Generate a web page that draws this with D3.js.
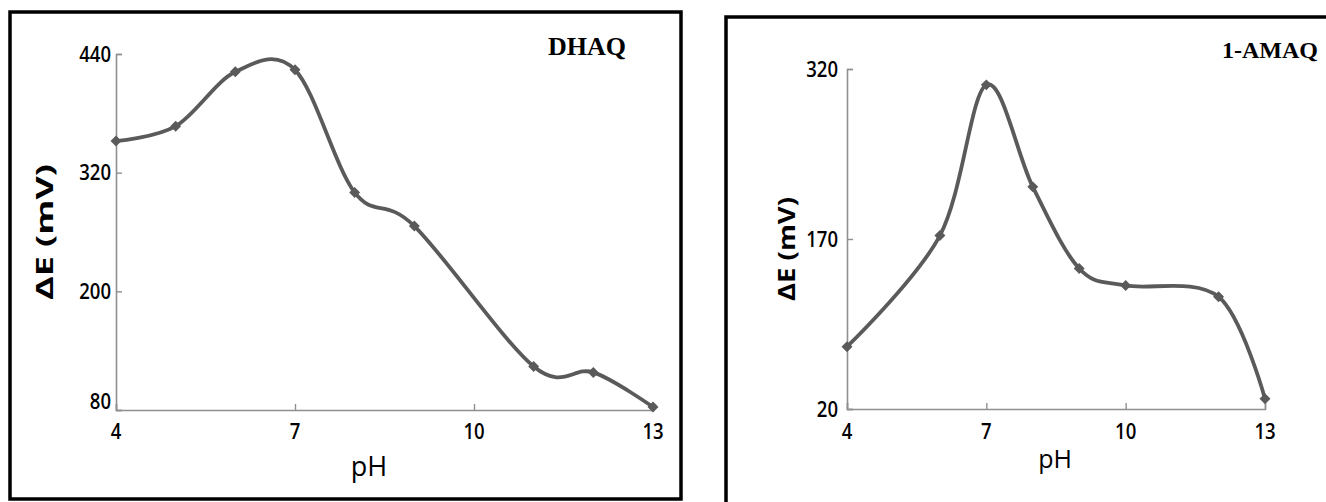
<!DOCTYPE html>
<html>
<head>
<meta charset="utf-8">
<script src="https://cdn.jsdelivr.net/npm/d3@7"></script>
<style>
  html, body { margin: 0; padding: 0; background: #fff; }
  svg { display: block; }
</style>
</head>
<body>
<svg id="chart" width="1326" height="502"></svg>
<script>
// pH sweep and peak separation ΔE for each compound
const phDHAQ = [4, 5, 6, 7, 8, 9, 11, 12, 13];
const dEDHAQ = [352, 367, 422, 424, 300, 266, 124, 118, 83];

const phAMAQ = [4, 6, 7, 8, 9, 10, 12, 13];
const dEAMAQ = [75, 173, 306, 216, 144, 129, 119, 29];

const xTicks = [4, 7, 10, 13];
const yTicksDHAQ = [80, 200, 320, 440];
const yTicksAMAQ = [20, 170, 320];

const titles = ["DHAQ", "1-AMAQ"];
const xTitle = "pH";
const yTitle = "ΔE (mV)";

const svg = d3.select("#chart");
svg.append("rect").attr("width", 1326).attr("height", 502).attr("fill", "#fff");

const LINE = "#5a5a5a";
const AXIS = "#8f8f8f";
const SANS = "'Open Sans', 'Noto Sans', sans-serif";

function panel(cfg) {
  const g = svg.append("g");

  // panel frame
  g.append("rect")
    .attr("x", cfg.frame[0]).attr("y", cfg.frame[1])
    .attr("width", cfg.frame[2]).attr("height", cfg.frame[3])
    .attr("fill", "none").attr("stroke", "#000").attr("stroke-width", 3.5);

  const x = d3.scaleLinear().domain([4, 13]).range([cfg.x0, cfg.x1]);
  const y = d3.scaleLinear().domain(cfg.yDomain).range([cfg.y0, cfg.y1]);

  // axes with inward ticks
  const xAxis = d3.axisTop(x).tickValues(xTicks).tickSize(6).tickFormat("");
  const yAxis = d3.axisRight(y).tickValues(cfg.yTicks).tickSize(6).tickFormat("");

  const gx = g.append("g").attr("transform", `translate(0,${cfg.y0})`).call(xAxis);
  const gy = g.append("g").attr("transform", `translate(${cfg.x0},0)`).call(yAxis);
  [gx, gy].forEach(a => {
    a.select(".domain").attr("stroke", AXIS).attr("stroke-width", 1.6);
    a.selectAll(".tick line").attr("stroke", AXIS).attr("stroke-width", 1.4);
  });

  // tick labels
  g.selectAll(".xl").data(xTicks).join("text")
    .attr("x", d => x(d)).attr("y", cfg.y0 + cfg.xLabelDy)
    .attr("text-anchor", "middle")
    .attr("font-family", SANS).attr("font-size", 21).attr("font-weight", 600)
    .attr("fill", "#000")
    .attr("textLength", d => String(d).length * 10.6).attr("lengthAdjust", "spacingAndGlyphs")
    .text(d => d);

  g.selectAll(".yl").data(cfg.yTicks).join("text")
    .attr("x", cfg.x0 - cfg.yLabelGap)
    .attr("y", d => y(d) + 7.5 + (d === cfg.yDomain[0] ? cfg.bottomLabelShift : 0))
    .attr("text-anchor", "end")
    .attr("font-family", SANS).attr("font-size", 21).attr("font-weight", 600)
    .attr("fill", "#000")
    .attr("textLength", d => String(d).length * 10.6).attr("lengthAdjust", "spacingAndGlyphs")
    .text(d => d);

  // axis titles
  g.append("text")
    .attr("x", cfg.xTitlePos[0]).attr("y", cfg.xTitlePos[1])
    .attr("text-anchor", "middle")
    .attr("font-family", SANS).attr("font-size", cfg.xTitleSize)
    .attr("fill", "#000")
    .text(xTitle);

  g.append("text")
    .attr("transform", `translate(${cfg.yTitlePos[0]},${cfg.yTitlePos[1]}) rotate(-90)`)
    .attr("text-anchor", "middle")
    .attr("font-family", SANS).attr("font-weight", "bold").attr("font-size", 24)
    .attr("fill", "#000")
    .attr("textLength", cfg.yTitleLen).attr("lengthAdjust", "spacingAndGlyphs")
    .text(yTitle);

  // compound label
  g.append("text")
    .attr("x", cfg.titlePos[0]).attr("y", cfg.titlePos[1])
    .attr("text-anchor", "end")
    .attr("font-family", "'Liberation Serif', 'Times New Roman', serif")
    .attr("font-weight", "bold").attr("font-size", cfg.titleSize).attr("fill", "#000")
    .text(cfg.title);

  const pts = cfg.xs.map((v, i) => [v, cfg.ys[i]]);

  // smoothed curve through the measurements
  const line = d3.line()
    .x(d => x(d[0])).y(d => y(d[1]))
    .curve(d3.curveCatmullRom.alpha(0));
  g.append("path").attr("d", line(pts))
    .attr("fill", "none").attr("stroke", LINE).attr("stroke-width", 3.8)
    .attr("stroke-linejoin", "round");

  // diamond markers
  const diamond = d3.symbol(d3.symbolSquare, 60);
  g.selectAll(".m").data(pts).join("path")
    .attr("d", diamond)
    .attr("transform", d => `translate(${x(d[0])},${y(d[1])}) rotate(45)`)
    .attr("fill", LINE);
}

panel({
  frame: [10, 12, 671, 487],
  x0: 116, x1: 653, y0: 410, y1: 54,
  yDomain: [80, 440], yTicks: yTicksDHAQ,
  xs: phDHAQ, ys: dEDHAQ,
  xLabelDy: 29, yLabelGap: 5, bottomLabelShift: -9,
  xTitlePos: [369, 476], xTitleSize: 27, yTitlePos: [53, 232], yTitleLen: 136,
  titlePos: [626, 55], titleSize: 26, title: titles[0]
});

panel({
  frame: [726, 17, 640, 520],
  x0: 847, x1: 1265, y0: 409, y1: 69,
  yDomain: [20, 320], yTicks: yTicksAMAQ,
  xs: phAMAQ, ys: dEAMAQ,
  xLabelDy: 30, yLabelGap: 9, bottomLabelShift: 0,
  xTitlePos: [1055, 468], xTitleSize: 25, yTitlePos: [795, 249], yTitleLen: 104,
  titlePos: [1318, 58], titleSize: 24, title: titles[1]
});
</script>
</body>
</html>
